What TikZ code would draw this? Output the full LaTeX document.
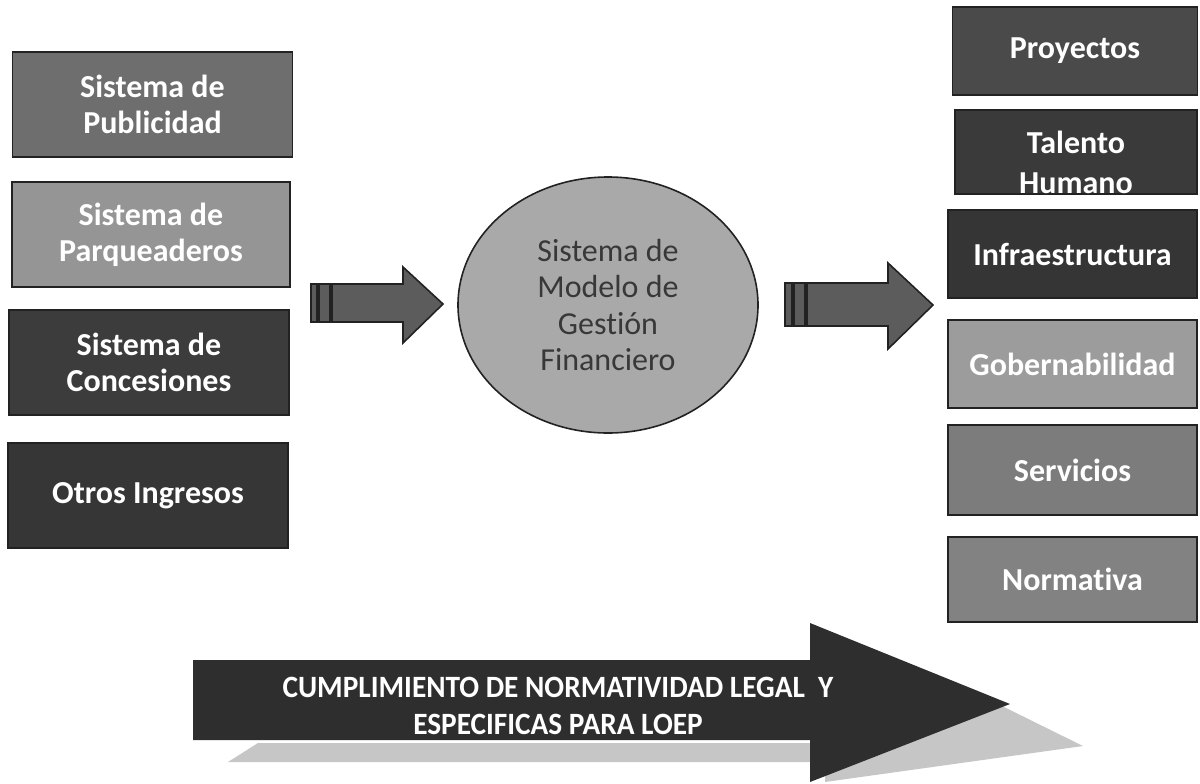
\documentclass[tikz,border=0pt]{standalone}
\usepackage{fontspec}
\setmainfont{Carlito}[Ligatures=NoCommon]
\usetikzlibrary{shapes.geometric}
\definecolor{gPub}{HTML}{6E6E6E}
\definecolor{gParq}{HTML}{959595}
\definecolor{gConc}{HTML}{3C3C3C}
\definecolor{gOtros}{HTML}{363636}
\definecolor{gProy}{HTML}{4A4A4A}
\definecolor{gTal}{HTML}{3A3A3A}
\definecolor{gInf}{HTML}{353535}
\definecolor{gGob}{HTML}{9C9C9C}
\definecolor{gServ}{HTML}{7C7C7C}
\definecolor{gNorm}{HTML}{828282}
\definecolor{gCirc}{HTML}{A9A9A9}
\definecolor{gArrow}{HTML}{5C5C5C}
\definecolor{gBig}{HTML}{2E2E2E}
\definecolor{gShadow}{HTML}{C6C6C6}
\definecolor{gEdge}{HTML}{222222}
\begin{document}
\begin{tikzpicture}[x=0.5pt,y=-0.5pt,
  box/.style={draw=gEdge, line width=0.8pt, text=white, align=center, inner sep=0pt,
    font=\bfseries\fontsize{16}{18}\selectfont},
  boxtext/.style={text=white, align=center, inner sep=0pt,
    font=\bfseries\fontsize{16}{20}\selectfont},
  blockarrow/.style={fill=gArrow, draw=gEdge, line width=0.8pt},
  ]
\useasboundingbox (0,0) rectangle (1200,783);

% left column
\node[box, fill=gPub, minimum width=140pt, minimum height=52.5pt] (pub) at (152.5,104.5) {Sistema de\\Publicidad};
\node[box, fill=gParq, minimum width=139pt, minimum height=52.5pt] (parq) at (151,234.5) {Sistema de\\Parqueaderos};
\node[box, fill=gConc, minimum width=140pt, minimum height=52.5pt] (conc) at (149,362.5) {Sistema de\\Concesiones};
\node[box, fill=gOtros, minimum width=140pt, minimum height=52.5pt] (otros) at (148,495.5) {Otros Ingresos};

% centre
\node[ellipse, fill=gCirc, draw=gEdge, line width=0.8pt, minimum width=150pt, minimum height=128pt,
  inner sep=0pt, align=center, text=black!78, font=\fontsize{16}{18.3}\selectfont] (modelo) at (608,305)
  {Sistema de\\Modelo de\\Gestión\\Financiero};

% left block arrow
\path[blockarrow] (311,284) rectangle (317,322);
\path[blockarrow] (319,284) rectangle (330,322);
\path[blockarrow] (332,284) -- (403,284) -- (403,267) -- (443,304) -- (403,343) -- (403,322) -- (332,322) -- cycle;

% right block arrow
\path[blockarrow] (785,283) rectangle (792,326);
\path[blockarrow] (794,283) rectangle (805,326);
\path[blockarrow] (807,283) -- (888,283) -- (888,263) -- (933,305) -- (888,349) -- (888,326) -- (807,326) -- cycle;

% right column
\node[box, fill=gProy, minimum width=122.5pt, minimum height=44pt] (proy) at (1075,51) {Proyectos};
\node[box, fill=gTal, minimum width=121pt, minimum height=42pt] (tal) at (1076,152) {};
\begin{scope}
  \clip (955,110) rectangle (1197,193);
  \node[boxtext] (taltxt) at (1076,162) {Talento\\Humano};
\end{scope}
\node[box, fill=gInf, minimum width=124.5pt, minimum height=44pt] (inf) at (1072.5,254) {Infraestructura};
\node[box, fill=gGob, minimum width=124.5pt, minimum height=44pt] (gob) at (1072.5,364) {Gobernabilidad};
\node[box, fill=gServ, minimum width=124.5pt, minimum height=45pt] (serv) at (1072.5,470) {Servicios};
\node[box, fill=gNorm, minimum width=124.5pt, minimum height=42.5pt] (norm) at (1072.5,579.5) {Normativa};

% bottom arrow with shadow
\path[fill=gShadow] (228,762) -- (258,743) -- (830,743) -- (1000,705) -- (1083,746) -- (825,782) -- (825,762) -- cycle;
\path[fill=gBig] (193,660) -- (810,660) -- (810,623) -- (1010,704) -- (810,782) -- (810,740) -- (193,740) -- cycle;
\node[text=white, align=center, inner sep=0pt, font=\bfseries\fontsize{15.5}{18.5}\selectfont] (legal) at (558,706)
  {\scalebox{0.945}[1]{CUMPLIMIENTO DE NORMATIVIDAD LEGAL\ \ Y}\\\scalebox{0.945}[1]{ESPECIFICAS PARA LOEP}};
\end{tikzpicture}
\end{document}
